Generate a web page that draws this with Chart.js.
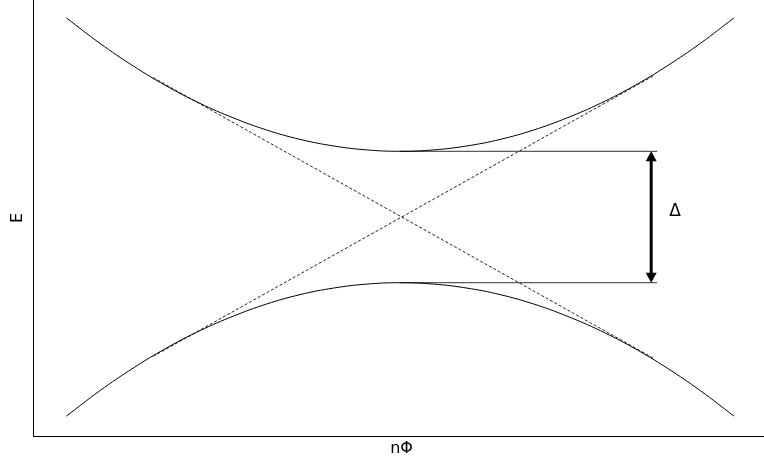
<!DOCTYPE html>
<html>
<head>
<meta charset="utf-8">
<script src="https://cdn.jsdelivr.net/npm/chart.js@4/dist/chart.umd.min.js"></script>
<style>
  html, body { margin: 0; padding: 0; background: #fff; }
  #wrap { width: 764px; height: 462px; position: relative; }
</style>
</head>
<body>
<div id="wrap"><canvas id="c"></canvas></div>
<script>
// Flux axis samples (nΦ) and the two energy branches of the avoided crossing
const fluxX = [-1.0, -0.9, -0.8, -0.7, -0.6, -0.5, -0.4, -0.3, -0.2, -0.1, 0.0,
               0.1, 0.2, 0.3, 0.4, 0.5, 0.6, 0.7, 0.8, 0.9, 1.0];
const upperE = [1.0, 0.873, 0.759, 0.658, 0.571, 0.498, 0.437, 0.390, 0.357, 0.337, 0.33,
                0.337, 0.357, 0.390, 0.437, 0.498, 0.571, 0.658, 0.759, 0.873, 1.0];
const lowerE = [-1.0, -0.873, -0.759, -0.658, -0.571, -0.498, -0.437, -0.390, -0.357, -0.337, -0.33,
                -0.337, -0.357, -0.390, -0.437, -0.498, -0.571, -0.658, -0.759, -0.873, -1.0];

// Uncoupled (crossing) levels, dashed
const diabaticX = [-0.74, 0.76];
const diabaticA = [0.70, -0.71];
const diabaticB = [-0.70, 0.71];

// Gap markers: level edges and the Δ arrow
const gapLevels = [0.33, -0.33];
const gapLineX = [0.0, 0.77];
const arrowX = 0.752;
const gapLabel = 'Δ';
const axisLabels = { x: 'nΦ', y: 'E' };

const pts = (xs, ys) => xs.map((x, i) => ({ x: x, y: ys[i] }));

const solid = { borderColor: '#000', borderWidth: 1, pointRadius: 0, tension: 0.4, fill: false };
const dashed = { borderColor: '#222', borderWidth: 1, pointRadius: 0, borderDash: [3, 2], fill: false };
const gapLine = { borderColor: '#333', borderWidth: 1, pointRadius: 0, fill: false };

// Draws the double-headed Δ arrow, its label and the axis titles
const annotate = {
  id: 'annotate',
  afterDatasetsDraw(chart) {
    const { ctx, scales: { x, y }, chartArea } = chart;
    const ax = x.getPixelForValue(arrowX);
    const yTop = y.getPixelForValue(gapLevels[0]);
    const yBot = y.getPixelForValue(gapLevels[1]);
    const head = 10, half = 5.5;
    ctx.save();
    ctx.strokeStyle = '#000';
    ctx.fillStyle = '#000';
    ctx.lineWidth = 3;
    ctx.beginPath();
    ctx.moveTo(ax, yTop + head - 1);
    ctx.lineTo(ax, yBot - head + 1);
    ctx.stroke();
    ctx.beginPath();
    ctx.moveTo(ax, yTop);
    ctx.lineTo(ax - half, yTop + head);
    ctx.lineTo(ax + half, yTop + head);
    ctx.closePath();
    ctx.fill();
    ctx.beginPath();
    ctx.moveTo(ax, yBot);
    ctx.lineTo(ax - half, yBot - head);
    ctx.lineTo(ax + half, yBot - head);
    ctx.closePath();
    ctx.fill();

    ctx.font = '17px "DejaVu Sans"';
    ctx.textAlign = 'left';
    ctx.textBaseline = 'middle';
    ctx.fillText(gapLabel, ax + 18, (yTop + yBot) / 2 - 5);

    ctx.font = '16px "DejaVu Sans"';
    ctx.textAlign = 'center';
    ctx.textBaseline = 'middle';
    ctx.fillText(axisLabels.x, (chartArea.left + chartArea.right) / 2 + 3, chartArea.bottom + 13);
    ctx.translate(18, (chartArea.top + chartArea.bottom) / 2);
    ctx.rotate(-Math.PI / 2);
    ctx.fillText(axisLabels.y, 0, 0);
    ctx.restore();
  }
};

new Chart(document.getElementById('c'), {
  type: 'line',
  data: {
    datasets: [
      Object.assign({ data: pts(fluxX, upperE) }, solid),
      Object.assign({ data: pts(fluxX, lowerE) }, solid),
      Object.assign({ data: pts(diabaticX, diabaticA) }, dashed),
      Object.assign({ data: pts(diabaticX, diabaticB) }, dashed),
      Object.assign({ data: pts(gapLineX, [gapLevels[0], gapLevels[0]]) }, gapLine),
      Object.assign({ data: pts(gapLineX, [gapLevels[1], gapLevels[1]]) }, gapLine)
    ]
  },
  options: {
    responsive: true,
    maintainAspectRatio: false,
    animation: false,
    events: [],
    layout: { padding: { left: 33, bottom: 26, top: 0, right: 0 } },
    plugins: { legend: { display: false }, tooltip: { enabled: false } },
    scales: {
      x: {
        type: 'linear', min: -1.1, max: 1.09,
        grid: { display: false, drawTicks: false },
        ticks: { display: false },
        border: { display: true, color: '#000', width: 1 }
      },
      y: {
        type: 'linear', min: -1.1, max: 1.09,
        grid: { display: false, drawTicks: false },
        ticks: { display: false },
        border: { display: true, color: '#000', width: 1 }
      }
    }
  },
  plugins: [annotate]
});
</script>
</body>
</html>
